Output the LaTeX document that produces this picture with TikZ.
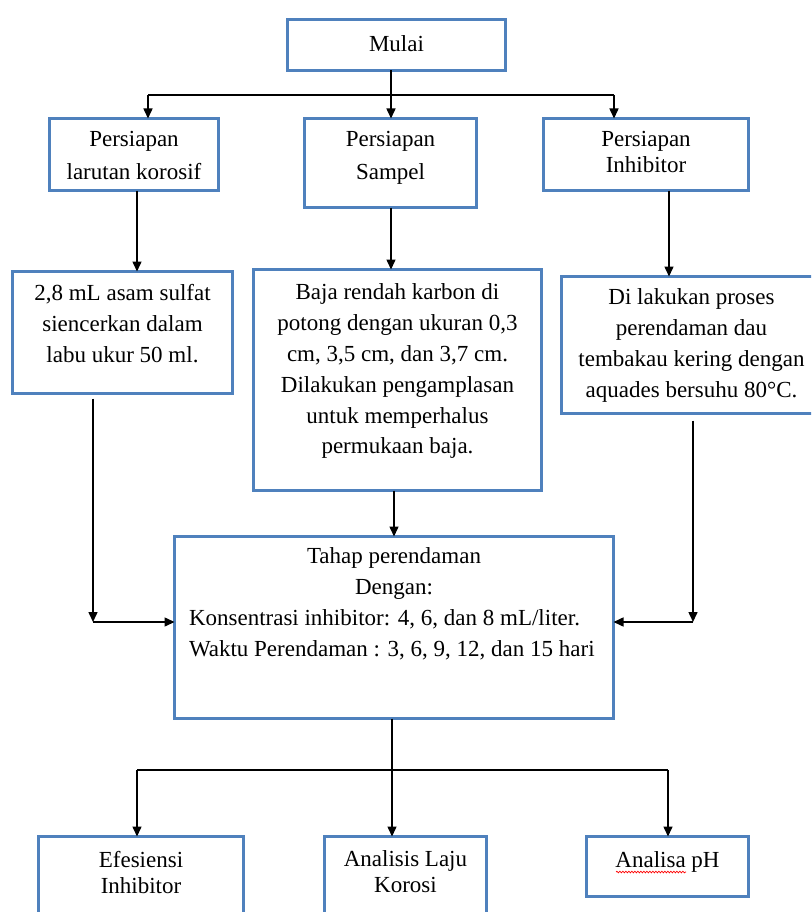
\documentclass[tikz,border=0pt]{standalone}
\usepackage{fontspec}
\setmainfont{Liberation Serif}
\usetikzlibrary{arrows.meta,decorations.pathmorphing}
\definecolor{boxblue}{RGB}{79,129,189}
% width, height, top pad, baselineskip, text
\newcommand{\bt}[5]{\parbox[t][#2][t]{#1}{\fontsize{23}{#4}\selectfont\centering\vspace*{#3}#5}}
\begin{document}
\begin{tikzpicture}[x=1pt,y=-1pt,
  fbox/.style={draw=boxblue,line width=3.5pt,inner sep=0pt,outer sep=0pt,anchor=north west,fill=white},
  ln/.style={line width=1.5pt,black},
  arr/.style={line width=1.5pt,black,-{Triangle[width=9pt,length=10pt]}}]
\useasboundingbox (0,0) rectangle (811,912);
\clip (0,0) rectangle (811,912);
\fill[white] (0,0) rectangle (811,912);

\node[fbox] (mulai) at (287.5,19.5) {\bt{218pt}{51pt}{16pt}{31pt}{Mulai}};
\node[fbox] (pa) at (49.5,118.5) {\bt{169pt}{72pt}{12.5pt}{33pt}{Persiapan\\larutan korosif}};
\node[fbox] (pb) at (304.5,118.5) {\bt{172pt}{89pt}{12.5pt}{33pt}{Persiapan\\Sampel}};
\node[fbox] (pc) at (543.5,118.5) {\bt{205pt}{72pt}{12.5pt}{26pt}{Persiapan\\Inhibitor}};
\node[fbox] (d) at (12.5,271.5) {\bt{220pt}{122pt}{12.5pt}{31pt}{2,8 mL asam sulfat\\siencerkan dalam\\labu ukur 50 ml.}};
\node[fbox] (e) at (253.5,269.5) {\bt{288pt}{221pt}{14.5pt}{30.8pt}{Baja rendah karbon di\\potong dengan ukuran 0,3\\cm, 3,5 cm, dan 3,7 cm.\\Dilakukan pengamplasan\\untuk memperhalus\\permukaan baja.}};
\node[fbox] (f) at (561.5,276.5) {\bt{260pt}{137pt}{12.5pt}{31pt}{Di lakukan proses\\perendaman dau\\tembakau kering dengan\\aquades bersuhu 80°C.}};
\node[fbox] (g) at (174.5,536.5) {\bt{439pt}{182pt}{11.5pt}{31pt}{Tahap perendaman\\Dengan:\par\leftskip=14.5pt\rightskip=0pt plus 1fil\relax Konsentrasi inhibitor: 4, 6, dan 8 mL/liter.\\Waktu Perendaman : 3, 6, 9, 12, dan 15 hari}};
\node[fbox] (h) at (38.5,836.5) {\bt{205pt}{100pt}{14.5pt}{26pt}{Efesiensi\\Inhibitor}};
\node[fbox] (i) at (324.5,836.5) {\bt{162pt}{100pt}{14.5pt}{26pt}{Analisis Laju\\Korosi}};
\node[fbox] (j) at (586.5,836.5) {\bt{162pt}{60pt}{15.5pt}{26pt}{Analisa pH}};

% top distribution
\coordinate (t0) at (391,95);
\coordinate (tA) at (148,95);
\coordinate (tC) at (614,95);
\draw[ln] (mulai.south -| t0) -- (t0);
\draw[ln] (tA) -- (tC);
\draw[arr] (tA) -- (tA |- pa.north);
\draw[arr] (t0) -- (t0 |- pb.north);
\draw[arr] (tC) -- (tC |- pc.north);

% second row
\coordinate (xa) at (137,0);
\coordinate (xb) at (391,0);
\coordinate (xc) at (669,0);
\draw[arr] (pa.south -| xa) -- (d.north -| xa);
\draw[arr] (pb.south -| xb) -- (e.north -| xb);
\draw[arr] (pc.south -| xc) -- (f.north -| xc);

% into G
\coordinate (dg) at (93,622);
\coordinate (fg) at (693,622);
\coordinate (xe) at (394,0);
\draw[arr,shorten <=5pt] (d.south -| dg) -- (dg);
\draw[arr] (dg) -- (dg -| g.west);
\draw[arr,shorten <=7pt] (f.south -| fg) -- (fg);
\draw[arr] (fg) -- (fg -| g.east);
\draw[arr] (e.south -| xe) -- (g.north -| xe);

% bottom distribution
\coordinate (b0) at (392,770);
\coordinate (bH) at (137,770);
\coordinate (bJ) at (668,770);
\draw[ln] (g.south -| b0) -- (b0);
\draw[ln] (bH) -- (bJ);
\draw[arr] (bH) -- (bH |- h.north);
\draw[arr] (b0) -- (b0 |- i.north);
\draw[arr] (bJ) -- (bJ |- j.north);

% spell-check wave under "Analisa"
\draw[red,line width=0.7pt,decorate,decoration={snake,segment length=3pt,amplitude=0.8pt}] (616,872) -- (686,872);
\end{tikzpicture}
\end{document}
